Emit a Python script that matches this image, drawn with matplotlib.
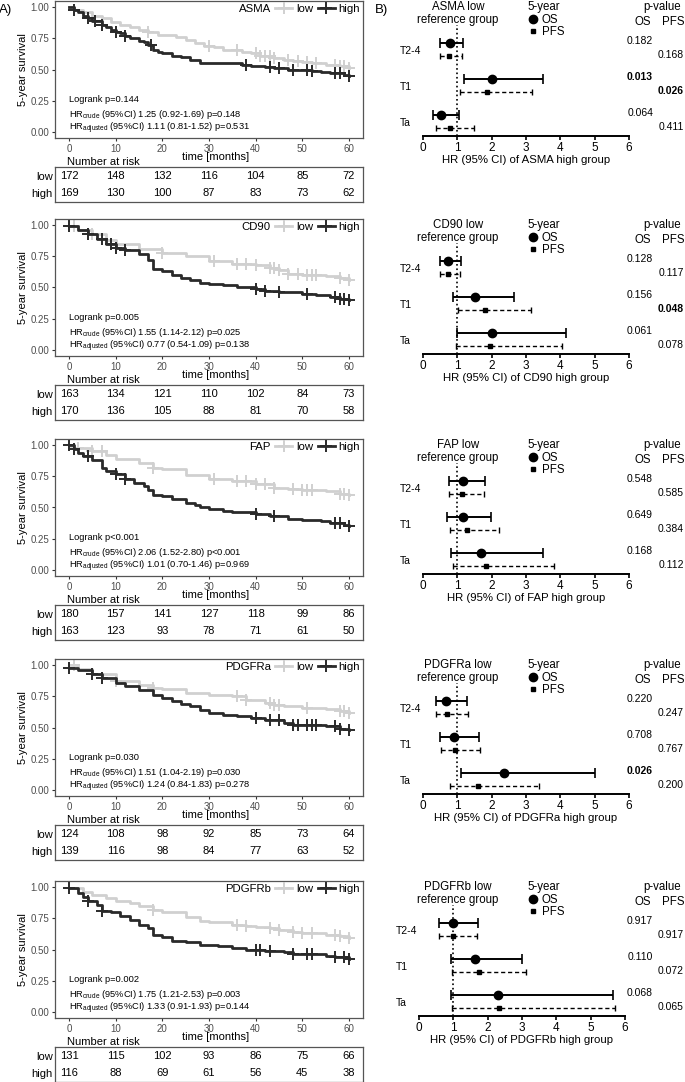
import numpy as np
import matplotlib.pyplot as plt
from matplotlib.lines import Line2D
from matplotlib.transforms import blended_transform_factory

plt.rcParams['font.family'] = ['Liberation Sans', 'DejaVu Sans']
NARROW = ['Liberation Sans Narrow', 'Liberation Sans']

W, H = 685, 1082

markers_names = ['ASMA', 'CD90', 'FAP', 'PDGFRa', 'PDGFRb']

# ---------- Kaplan-Meier curves (time in months, survival) ----------
asma_low_t = [0, 1, 3, 5, 7, 9, 11, 13, 15, 17, 19, 23, 25, 27, 29, 31, 33, 35, 37, 39, 41, 44, 46, 48, 50, 52, 55, 58, 60]
asma_low_s = [1.0, 0.98, 0.96, 0.93, 0.91, 0.88, 0.86, 0.84, 0.82, 0.80, 0.78, 0.76, 0.74, 0.71, 0.69, 0.68, 0.66, 0.655, 0.64, 0.63, 0.61, 0.59, 0.58, 0.57, 0.56, 0.55, 0.54, 0.53, 0.51]
asma_high_t = [0, 1, 2, 3, 4, 5, 7, 8, 9, 10, 11, 12, 13, 15, 16, 17, 18, 19, 20, 22, 24, 26, 28, 30, 37, 39, 42, 44, 47, 52, 54, 56, 59, 60]
asma_high_s = [1.0, 0.98, 0.96, 0.93, 0.91, 0.89, 0.86, 0.84, 0.82, 0.80, 0.79, 0.77, 0.75, 0.73, 0.72, 0.70, 0.66, 0.64, 0.63, 0.61, 0.60, 0.58, 0.555, 0.55, 0.54, 0.53, 0.52, 0.51, 0.50, 0.49, 0.48, 0.47, 0.455, 0.45]
asma_low_cens = [1, 17, 30, 36, 40, 41, 42, 43, 44, 47, 49, 51, 53, 57, 58, 59, 60]
asma_high_cens = [1, 4, 5.5, 7, 10, 12, 17.5, 38, 43, 45, 48, 51, 52, 57, 58, 60]

cd90_low_t = [0, 2, 5, 8, 10, 15, 20, 25, 30, 35, 40, 43, 45, 47, 50, 55, 58, 60]
cd90_low_s = [0.99, 0.96, 0.93, 0.88, 0.85, 0.81, 0.78, 0.75, 0.71, 0.69, 0.68, 0.66, 0.64, 0.61, 0.60, 0.59, 0.58, 0.56]
cd90_high_t = [0, 2, 4, 6, 8, 10, 12, 15, 17, 18, 20, 22, 24, 26, 28, 30, 33, 36, 40, 42, 45, 50, 53, 56, 58, 60]
cd90_high_s = [0.99, 0.96, 0.93, 0.89, 0.85, 0.82, 0.80, 0.77, 0.72, 0.65, 0.63, 0.60, 0.58, 0.56, 0.535, 0.53, 0.52, 0.50, 0.49, 0.47, 0.46, 0.45, 0.44, 0.42, 0.41, 0.40]
cd90_low_cens = [1, 5, 20, 31, 36, 38, 40, 43, 44, 45, 47, 49, 51, 52, 53, 58, 60]
cd90_high_cens = [0, 4, 7, 9, 10, 12, 40, 42, 45, 51, 57, 58, 59, 60]

fap_low_t = [0, 5, 8, 10, 15, 18, 20, 25, 30, 35, 40, 44, 47, 50, 55, 58, 60]
fap_low_s = [0.98, 0.95, 0.92, 0.89, 0.86, 0.82, 0.81, 0.76, 0.73, 0.71, 0.69, 0.66, 0.65, 0.64, 0.63, 0.61, 0.60]
fap_high_t = [0, 1, 2, 3, 5, 7, 8, 10, 12, 14, 16, 17, 18, 20, 22, 25, 27, 28, 30, 33, 35, 40, 43, 47, 50, 54, 56, 59, 60]
fap_high_s = [1.0, 0.97, 0.94, 0.91, 0.88, 0.82, 0.79, 0.77, 0.73, 0.70, 0.67, 0.64, 0.60, 0.59, 0.57, 0.54, 0.52, 0.50, 0.49, 0.47, 0.46, 0.45, 0.43, 0.41, 0.40, 0.39, 0.375, 0.36, 0.35]
fap_low_cens = [2, 5, 7, 18, 31, 36, 38, 40, 42, 44, 48, 50, 51, 52, 58, 59, 60]
fap_high_cens = [0, 1, 4, 10, 12, 40, 44, 57, 58, 60]

pdgfra_low_t = [0, 2, 5, 10, 15, 18, 20, 25, 30, 35, 38, 42, 44, 46, 50, 55, 58, 60]
pdgfra_low_s = [1.0, 0.97, 0.93, 0.87, 0.84, 0.82, 0.81, 0.78, 0.76, 0.75, 0.72, 0.70, 0.68, 0.67, 0.66, 0.645, 0.63, 0.62]
pdgfra_high_t = [0, 2, 5, 7, 10, 12, 15, 18, 20, 22, 24, 26, 28, 30, 33, 36, 39, 42, 46, 48, 55, 58, 60]
pdgfra_high_s = [0.98, 0.96, 0.93, 0.90, 0.86, 0.83, 0.80, 0.76, 0.74, 0.71, 0.69, 0.67, 0.64, 0.62, 0.60, 0.59, 0.58, 0.56, 0.54, 0.52, 0.51, 0.49, 0.48]
pdgfra_low_cens = [1, 10, 18, 36, 38, 43, 44, 45, 51, 58, 59, 60]
pdgfra_high_cens = [0, 5, 7, 40, 43, 45, 48, 49, 51, 52, 53, 57, 58, 60]

pdgfrb_low_t = [0, 3, 5, 8, 10, 13, 15, 18, 20, 25, 28, 30, 35, 38, 40, 43, 45, 48, 50, 55, 58, 60]
pdgfrb_low_s = [0.99, 0.96, 0.94, 0.91, 0.89, 0.87, 0.85, 0.82, 0.80, 0.76, 0.73, 0.72, 0.70, 0.69, 0.68, 0.67, 0.66, 0.64, 0.63, 0.62, 0.61, 0.59]
pdgfrb_high_t = [0, 2, 3, 4, 6, 7, 9, 11, 13, 15, 17, 18, 20, 22, 25, 28, 32, 35, 38, 42, 46, 48, 55, 57, 60]
pdgfrb_high_s = [0.99, 0.95, 0.92, 0.89, 0.86, 0.81, 0.80, 0.77, 0.74, 0.70, 0.67, 0.62, 0.60, 0.57, 0.56, 0.54, 0.53, 0.51, 0.50, 0.49, 0.48, 0.46, 0.45, 0.44, 0.42]
pdgfrb_low_cens = [18, 36, 38, 43, 45, 48, 50, 52, 57, 58, 60]
pdgfrb_high_cens = [0, 4, 7, 40, 41, 43, 48, 51, 52, 57, 59, 60]

km_low = [(asma_low_t, asma_low_s, asma_low_cens), (cd90_low_t, cd90_low_s, cd90_low_cens),
          (fap_low_t, fap_low_s, fap_low_cens), (pdgfra_low_t, pdgfra_low_s, pdgfra_low_cens),
          (pdgfrb_low_t, pdgfrb_low_s, pdgfrb_low_cens)]
km_high = [(asma_high_t, asma_high_s, asma_high_cens), (cd90_high_t, cd90_high_s, cd90_high_cens),
           (fap_high_t, fap_high_s, fap_high_cens), (pdgfra_high_t, pdgfra_high_s, pdgfra_high_cens),
           (pdgfrb_high_t, pdgfrb_high_s, pdgfrb_high_cens)]

logrank = ['p=0.144', 'p=0.005', 'p<0.001', 'p=0.030', 'p=0.002']
hr_crude = ['1.25 (0.92-1.69) p=0.148', '1.55 (1.14-2.12) p=0.025', '2.06 (1.52-2.80) p<0.001',
            '1.51 (1.04-2.19) p=0.030', '1.75 (1.21-2.53) p=0.003']
hr_adj = ['1.11 (0.81-1.52) p=0.531', '0.77 (0.54-1.09) p=0.138', '1.01 (0.70-1.46) p=0.969',
          '1.24 (0.84-1.83) p=0.278', '1.33 (0.91-1.93) p=0.144']

risk_times = [0, 10, 20, 30, 40, 50, 60]
risk_low = [[172, 148, 132, 116, 104, 85, 72], [163, 134, 121, 110, 102, 84, 73],
            [180, 157, 141, 127, 118, 99, 86], [124, 108, 98, 92, 85, 73, 64],
            [131, 115, 102, 93, 86, 75, 66]]
risk_high = [[169, 130, 100, 87, 83, 73, 62], [170, 136, 105, 88, 81, 70, 58],
             [163, 123, 93, 78, 71, 61, 50], [139, 116, 98, 84, 77, 63, 52],
             [116, 88, 69, 61, 56, 45, 38]]

# ---------- forest plots: HR, lower, upper for T2-4, T1, Ta ----------
stages = ['T2-4', 'T1', 'Ta']
os_hr = [[0.78, 2.02, 0.53], [0.73, 1.50, 2.02], [1.17, 1.17, 1.70], [0.68, 0.90, 2.35], [0.99, 1.62, 2.31]]
os_lo = [[0.50, 1.18, 0.29], [0.49, 0.87, 0.99], [0.76, 0.70, 0.83], [0.37, 0.50, 1.12], [0.57, 0.92, 0.94]]
os_hi = [[1.17, 3.50, 1.05], [1.12, 2.64, 4.17], [1.80, 1.99, 3.50], [1.29, 1.63, 5.00], [1.72, 2.99, 5.64]]
pfs_hr = [[0.76, 1.86, 0.78], [0.73, 1.80, 1.94], [1.15, 1.28, 1.83], [0.70, 0.92, 1.60], [0.99, 1.75, 2.33]]
pfs_lo = [[0.50, 1.09, 0.39], [0.49, 1.02, 0.95], [0.76, 0.78, 0.87], [0.37, 0.53, 0.80], [0.57, 0.96, 0.96]]
pfs_hi = [[1.15, 3.18, 1.49], [1.09, 3.16, 4.06], [1.77, 2.20, 3.82], [1.31, 1.65, 3.38], [1.70, 3.13, 5.71]]
os_p = [['0.182', '0.013', '0.064'], ['0.128', '0.156', '0.061'], ['0.548', '0.649', '0.168'],
        ['0.220', '0.708', '0.026'], ['0.917', '0.110', '0.068']]
pfs_p = [['0.168', '0.026', '0.411'], ['0.117', '0.048', '0.078'], ['0.585', '0.384', '0.112'],
         ['0.247', '0.767', '0.200'], ['0.917', '0.072', '0.065']]

low_col = '#d0d0d0'
high_col = '#2a2a2a'
tick_col = '#4d4d4d'

fig = plt.figure(figsize=(W / 100, H / 100), dpi=100)


def box(x0, y0, x1, y1):
    return fig.add_axes([x0 / W, 1 - y1 / H, (x1 - x0) / W, (y1 - y0) / H])


def ftext(x, y, s, **kw):
    fig.text(x / W, 1 - y / H, s, **kw)


offsets = [0, 218, 438, 658, 880]
forest_dx = [0, 0, 0, 0, -4]

for i, name in enumerate(markers_names):
    off = offsets[i]

    # ---- KM plot ----
    ax = box(55, off + 1, 363, off + 138)
    for (t, s, cens), col in [(km_low[i], low_col), (km_high[i], high_col)]:
        t = np.array(t)
        s = np.array(s)
        ax.step(t, s, where='post', color=col, lw=2.0)
        cy = s[np.searchsorted(t, cens, side='right') - 1]
        ax.plot(cens, cy, ls='none', marker='+', ms=8, mew=1.4, color=col)
    ax.set_xlim(-3, 63)
    ax.set_ylim(-0.05, 1.05)
    ax.set_xticks(risk_times)
    ax.set_yticks([0, 0.25, 0.5, 0.75, 1.0])
    ax.set_yticklabels(['0.00', '0.25', '0.50', '0.75', '1.00'])
    ax.tick_params(labelsize=7, colors='#333333', labelcolor=tick_col, length=2.5, width=0.8, pad=1.5)
    for sp in ax.spines.values():
        sp.set_color('#555555')
        sp.set_linewidth(0.9)
    ax.set_ylabel('5-year survival', fontsize=8, labelpad=2)
    ax.set_xlabel('time [months]', fontsize=8)
    ax.xaxis.set_label_coords(0.52, -0.105)

    handles = [Line2D([], [], ls='none'),
               Line2D([], [], color=low_col, lw=2.0, marker='+', ms=8, mew=1.4),
               Line2D([], [], color=high_col, lw=2.0, marker='+', ms=8, mew=1.4)]
    ax.legend(handles, [name, 'low', 'high'], ncol=3, loc='upper right', frameon=False,
              fontsize=8.2, handlelength=1.5, handletextpad=0.3, columnspacing=0.4,
              borderpad=0.2, borderaxespad=0.1)

    ax.text(0, 0.26, 'Logrank ' + logrank[i], fontsize=6.7, va='center')
    ax.text(0, 0.14, r'HR$_{\mathregular{crude}}$ (95%CI) ' + hr_crude[i], fontsize=6.7, va='center')
    ax.text(0, 0.03, r'HR$_{\mathregular{adjusted}}$ (95%CI) ' + hr_adj[i], fontsize=6.7, va='center')

    # ---- number at risk table ----
    rt = box(55, off + 167, 363, off + 202)
    rt.set_xlim(-3, 63)
    rt.set_ylim(0, 2)
    rt.set_xticks([])
    rt.set_yticks([1.5, 0.5])
    rt.set_yticklabels(['low', 'high'])
    rt.tick_params(axis='y', length=0, pad=1.5, labelsize=8)
    for sp in rt.spines.values():
        sp.set_color('#555555')
        sp.set_linewidth(0.9)
    for tt, lo, hi in zip(risk_times, risk_low[i], risk_high[i]):
        rt.text(tt, 1.5, str(lo), ha='center', va='center', fontsize=8)
        rt.text(tt, 0.5, str(hi), ha='center', va='center', fontsize=8)
    ftext(67, off + 162, 'Number at risk', fontsize=8, va='center')

    # ---- forest plot ----
    dx = forest_dx[i]
    fx = box(423 + dx, off + 25, 629 + dx, off + 136)
    for g in range(3):
        fx.errorbar(os_hr[i][g], g, xerr=[[os_hr[i][g] - os_lo[i][g]], [os_hi[i][g] - os_hr[i][g]]],
                    fmt='o', color='black', ms=6, lw=1.4, capsize=3.5, capthick=1.2)
        eb = fx.errorbar(pfs_hr[i][g], g + 0.36, xerr=[[pfs_hr[i][g] - pfs_lo[i][g]], [pfs_hi[i][g] - pfs_hr[i][g]]],
                         fmt='s', color='black', ms=3.5, lw=1.0, capsize=2.5, capthick=1.0)
        eb[2][0].set_linestyle((0, (3, 2)))
    fx.axvline(1, color='black', ls=':', lw=1.2, zorder=0)
    fx.set_xlim(0, 6)
    fx.set_ylim(2.58, -0.5)
    fx.set_xticks(range(7))
    fx.set_yticks([0.18, 1.18, 2.18])
    fx.set_yticklabels(stages)
    fx.tick_params(axis='y', length=0, pad=17, labelsize=7.5)
    for lab in fx.get_yticklabels():
        lab.set_horizontalalignment('left')
    fx.tick_params(axis='x', labelsize=8.5, length=3, width=1.2, pad=1)
    for k in ['top', 'right', 'left']:
        fx.spines[k].set_visible(False)
    fx.spines['bottom'].set_linewidth(1.4)
    fx.set_xlabel('HR (95% CI) of ' + name + ' high group', fontsize=8.2, labelpad=1)

    tr = blended_transform_factory(fig.transFigure, fx.transData)
    for g in range(3):
        fx.text(653 / W, g - 0.05, os_p[i][g], transform=tr, ha='right', va='center', fontsize=7.5,
                family=NARROW, fontweight='bold' if float(os_p[i][g]) < 0.05 else 'normal')
        fx.text(684 / W, g + 0.33, pfs_p[i][g], transform=tr, ha='right', va='center', fontsize=7.5,
                family=NARROW, fontweight='bold' if float(pfs_p[i][g]) < 0.05 else 'normal')

    ftext(458, off + 7, name + ' low', ha='center', va='center', fontsize=8.3)
    ftext(458, off + 20, 'reference group', ha='center', va='center', fontsize=8.3)
    ftext(662, off + 7, 'p-value', ha='center', va='center', fontsize=8.3)
    ftext(643, off + 22, 'OS', ha='center', va='center', fontsize=8.3)
    ftext(673, off + 22, 'PFS', ha='center', va='center', fontsize=8.3)

    lh = [Line2D([], [], ls='none', marker='o', color='black', ms=6),
          Line2D([], [], ls='none', marker='s', color='black', ms=3.5)]
    fig.legend(lh, ['OS', 'PFS'], title='5-year', loc='upper left', bbox_to_anchor=(527 / W, 1 - (off + 1) / H),
               frameon=False, fontsize=8.3, title_fontsize=8.3, alignment='left', handlelength=1.0,
               handletextpad=0.3, labelspacing=0.05, borderpad=0, borderaxespad=0)

ftext(-1, 10, 'A)', fontsize=9.5, va='center')
ftext(375, 10, 'B)', fontsize=9.5, va='center')

fig.savefig('out.png', dpi=100)
